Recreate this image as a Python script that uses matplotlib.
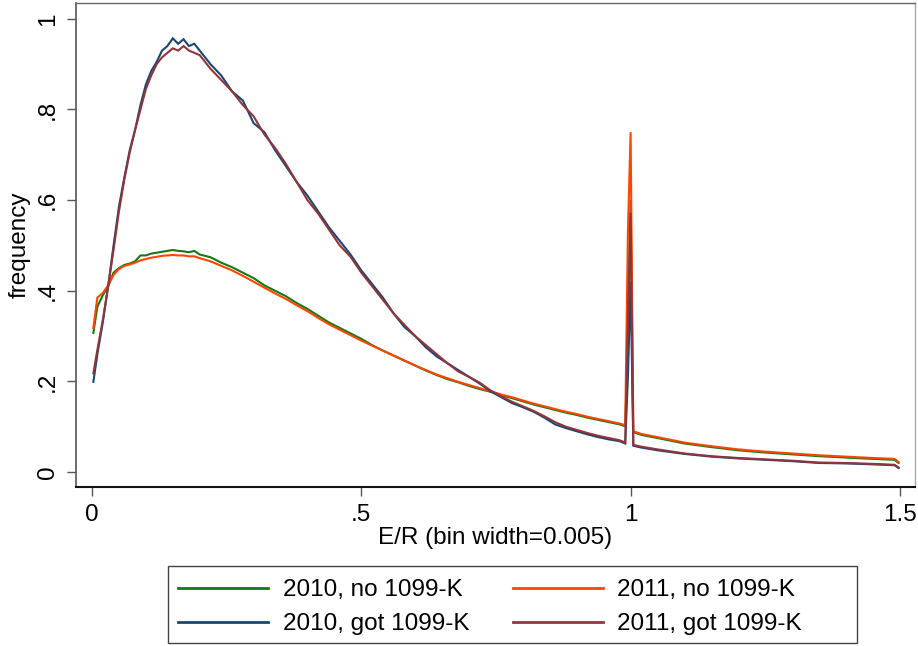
import matplotlib
matplotlib.use("Agg")
import matplotlib.pyplot as plt
from matplotlib.patches import Rectangle

# E/R bin positions (bin width = 0.005)
er = [0.0025, 0.01, 0.02, 0.03, 0.04, 0.05, 0.06, 0.07, 0.08, 0.09,
      0.10, 0.11, 0.12, 0.13, 0.14, 0.15, 0.16, 0.17, 0.18, 0.19,
      0.20, 0.22, 0.24, 0.26, 0.28, 0.30, 0.32, 0.34, 0.36, 0.38,
      0.40, 0.42, 0.44, 0.46, 0.48, 0.50, 0.52, 0.54, 0.56, 0.58,
      0.60, 0.62, 0.64, 0.66, 0.68, 0.70, 0.72, 0.74, 0.76, 0.78,
      0.80, 0.82, 0.84, 0.86, 0.88, 0.90, 0.92, 0.94, 0.96, 0.98,
      0.99, 0.995, 1.0, 1.005, 1.02, 1.05, 1.10, 1.15, 1.20, 1.25,
      1.30, 1.35, 1.40, 1.45, 1.49, 1.4975]

no_2010 = [0.307, 0.365, 0.390, 0.410, 0.440, 0.450, 0.457, 0.460, 0.465, 0.478,
           0.478, 0.482, 0.484, 0.486, 0.488, 0.490, 0.488, 0.487, 0.485, 0.488,
           0.480, 0.474, 0.462, 0.452, 0.440, 0.428, 0.412, 0.400, 0.388, 0.373,
           0.360, 0.345, 0.330, 0.318, 0.306, 0.294, 0.280, 0.268, 0.257, 0.246,
           0.235, 0.224, 0.214, 0.205, 0.198, 0.190, 0.183, 0.177, 0.170, 0.163,
           0.156, 0.149, 0.143, 0.137, 0.131, 0.126, 0.120, 0.115, 0.110, 0.105,
           0.101, 0.300, 0.600, 0.088, 0.082, 0.075, 0.063, 0.055, 0.048, 0.043,
           0.039, 0.035, 0.032, 0.029, 0.027, 0.020]

no_2011 = [0.318, 0.385, 0.395, 0.412, 0.435, 0.448, 0.455, 0.458, 0.462, 0.467,
           0.470, 0.473, 0.475, 0.477, 0.478, 0.479, 0.478, 0.478, 0.476, 0.476,
           0.472, 0.465, 0.455, 0.445, 0.433, 0.420, 0.407, 0.394, 0.382, 0.368,
           0.355, 0.340, 0.326, 0.314, 0.302, 0.290, 0.279, 0.268, 0.257, 0.246,
           0.235, 0.225, 0.215, 0.207, 0.199, 0.192, 0.185, 0.178, 0.171, 0.165,
           0.158, 0.151, 0.145, 0.139, 0.133, 0.128, 0.122, 0.117, 0.112, 0.107,
           0.103, 0.530, 0.750, 0.090, 0.084, 0.077, 0.065, 0.057, 0.050, 0.045,
           0.041, 0.037, 0.034, 0.031, 0.029, 0.022]

got_2010 = [0.199, 0.260, 0.330, 0.410, 0.500, 0.585, 0.650, 0.710, 0.755, 0.810,
            0.855, 0.885, 0.905, 0.930, 0.940, 0.957, 0.945, 0.955, 0.940, 0.945,
            0.930, 0.900, 0.875, 0.840, 0.820, 0.770, 0.750, 0.710, 0.675, 0.640,
            0.610, 0.575, 0.540, 0.510, 0.480, 0.445, 0.415, 0.385, 0.350, 0.320,
            0.300, 0.275, 0.255, 0.240, 0.225, 0.210, 0.195, 0.178, 0.165, 0.152,
            0.143, 0.133, 0.120, 0.105, 0.097, 0.090, 0.083, 0.077, 0.072, 0.068,
            0.063, 0.210, 0.420, 0.058, 0.054, 0.048, 0.040, 0.034, 0.030, 0.027,
            0.024, 0.020, 0.019, 0.017, 0.015, 0.009]

got_2011 = [0.218, 0.270, 0.335, 0.410, 0.490, 0.575, 0.645, 0.705, 0.755, 0.800,
            0.845, 0.875, 0.900, 0.915, 0.925, 0.935, 0.930, 0.940, 0.930, 0.925,
            0.920, 0.890, 0.865, 0.840, 0.810, 0.785, 0.745, 0.715, 0.680, 0.640,
            0.600, 0.570, 0.535, 0.500, 0.475, 0.440, 0.410, 0.380, 0.350, 0.325,
            0.300, 0.280, 0.260, 0.240, 0.222, 0.210, 0.197, 0.180, 0.167, 0.155,
            0.145, 0.135, 0.123, 0.110, 0.100, 0.093, 0.086, 0.080, 0.075, 0.070,
            0.065, 0.330, 0.572, 0.060, 0.056, 0.050, 0.041, 0.035, 0.031, 0.028,
            0.025, 0.021, 0.020, 0.018, 0.016, 0.010]

labels = ["2010, no 1099-K", "2011, no 1099-K", "2010, got 1099-K", "2011, got 1099-K"]
colors = ["#137a13", "#ff4500", "#1a476f", "#90353b"]

xticks = [0, 0.5, 1.0, 1.5]
xticklabels = ["0", ".5", "1", "1.5"]
yticks = [0, 0.2, 0.4, 0.6, 0.8, 1.0]
yticklabels = ["0", ".2", ".4", ".6", ".8", "1"]

plt.rcParams['font.family'] = ['Liberation Sans', 'DejaVu Sans']
FS = 17.5
W, H = 918, 646

fig = plt.figure(figsize=(W/100, H/100), dpi=100)
ax = fig.add_axes([76/W, 1-487/H, (915-76)/W, (487-3)/H])

series = [no_2010, no_2011, got_2010, got_2011]
lines = []
for ys, lab, c in zip(series, labels, colors):
    ln, = ax.plot(er, ys, color=c, lw=1.5, label=lab, solid_joinstyle='miter')
    lines.append(ln)

ax.set_xlim(-0.0297, 1.528)
ax.set_ylim(-0.033, 1.035)
ax.set_xticks(xticks)
ax.set_xticklabels(xticklabels)
ax.set_yticks(yticks)
ax.set_yticklabels(yticklabels, rotation=90, va='center')
ax.tick_params(axis='both', direction='out', length=6.5, width=1, colors='#555555',
               labelsize=FS, labelcolor='black')
ax.tick_params(axis='x', pad=6)
ax.tick_params(axis='y', pad=6)

ax.spines['bottom'].set_color('#111111')
ax.spines['bottom'].set_linewidth(1.5)
ax.spines['left'].set_color('#555555')
ax.spines['left'].set_linewidth(1.2)
ax.spines['top'].set_color('#666666')
ax.spines['top'].set_linewidth(1.0)
ax.spines['right'].set_color('#aaaaaa')
ax.spines['right'].set_linewidth(1.0)

ax.set_xlabel("E/R (bin width=0.005)", fontsize=FS)
ax.set_ylabel("frequency", fontsize=FS)
ax.xaxis.set_label_coords(0.5, -(538-487)/484)
ax.xaxis.label.set_va('center')
ax.yaxis.set_label_coords((20-76)/839, 0.5)
ax.yaxis.label.set_va('center')

# legend frame drawn separately to match the reference box
fig.patches.append(Rectangle((168/W, 1-643/H), (857-168)/W, (643-566)/H,
                             transform=fig.transFigure, fill=False,
                             edgecolor='#444444', lw=1.0))

order = [0, 2, 1, 3]
leg = fig.legend([lines[i] for i in order], [labels[i] for i in order],
                 loc='upper left', bbox_to_anchor=(178/W, 1-579/H),
                 ncol=2, fontsize=FS, frameon=False, handlelength=3.7,
                 handletextpad=0.6, columnspacing=1.8, labelspacing=0.5,
                 borderpad=0, borderaxespad=0)
for h in leg.get_lines():
    h.set_linewidth(2.0)

fig.savefig("out.png", dpi=100)
